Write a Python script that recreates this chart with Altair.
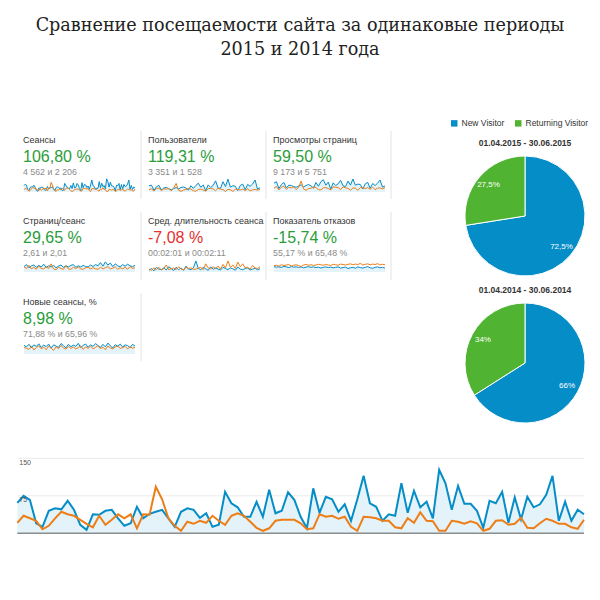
import altair as alt
import pandas as pd

# ---------------- data ----------------
title_lines = ["Сравнение посещаемости сайта за одинаковые периоды", "2015 и 2014 года"]

card_labels = ["Сеансы", "Пользователи", "Просмотры страниц",
               "Страниц/сеанс", "Сред. длительность сеанса", "Показатель отказов",
               "Новые сеансы, %"]
card_changes = ["106,80 %", "119,31 %", "59,50 %", "29,65 %", "-7,08 %", "-15,74 %", "8,98 %"]
card_details = ["4 562 и 2 206", "3 351 и 1 528", "9 173 и 5 751", "2,61 и 2,01",
                "00:02:01 и 00:02:11", "55,17 % и 65,48 %", "71,88 % и 65,96 %"]
card_trend = ["good", "good", "good", "good", "bad", "good", "good"]
card_col = [0, 1, 2, 0, 1, 2, 0]
card_row = [0, 0, 0, 1, 1, 1, 2]

# daily sessions 01.04 - 30.06 (bottom chart and "Сеансы" sparkline)
sessions_2015 = [61, 75, 67, 20, 13, 45, 50, 48, 65, 47,
                 17, 7, 38, 37, 45, 47, 30, 15, 20, 53,
                 30, 39, 43, 47, 30, 13, 43, 50, 47, 31,
                 40, 13, 17, 83, 60, 52, 33, 33, 63, 33,
                 87, 40, 45, 82, 67,
                 33, 10, 90, 41, 73, 68, 43, 58, 25, 68,
                 115, 60, 53, 25, 38, 35, 100, 41, 85, 52,
                 63, 30, 127, 100, 47, 95, 59, 59, 45, 11,
                 65, 60, 83, 21, 72, 28, 73, 52, 58, 77,
                 115, 25, 63, 25, 47, 38]
sessions_2014 = [21, 35, 30, 25, 8, 15, 30, 43, 38, 35,
                 27, 19, 12, 35, 17, 27, 38, 30, 38, 10,
                 38, 37, 93, 68, 30, 15, 5, 23, 19, 25,
                 21, 35, 25, 17, 35, 40, 35, 23, 11, 5,
                 10, 25, 27, 27, 27,
                 20, 8, 10, 38, 33, 35, 29, 33, 13, 5,
                 33, 32, 30, 25, 25, 12, 10, 30, 21, 42,
                 25, 24, 5, 5, 25, 23, 19, 24, 20, 5,
                 9, 25, 26, 17, 19, 31, 11, 10, 20, 29,
                 25, 19, 19, 12, 9, 27]

users_2015 = [44, 48, 12, 36, 47, 14, 28, 33, 22, 16, 24, 31, 22, 32, 35, 28, 13, 44, 25, 46,
              62, 33, 49, 8, 50, 32, 46, 78, 28, 26, 72, 38, 90, 34, 44, 40, 10, 46, 55, 16,
              53, 40, 56, 84, 20, 30]
users_2014 = [16, 22, 7, 24, 27, 10, 22, 20, 26, 8, 27, 60, 12, 4, 14, 17, 26, 20, 8, 6,
              18, 20, 14, 6, 25, 24, 22, 9, 26, 20, 16, 4, 18, 16, 4, 19, 18, 14, 20, 10,
              22, 8, 15, 18, 13, 20]
pageviews_2015 = [130, 150, 50, 110, 140, 60, 100, 95, 80, 70, 85, 105, 75, 95, 110, 90, 55, 140, 85, 150,
                  180, 100, 145, 40, 135, 95, 120, 170, 90, 80, 160, 100, 190, 100, 115, 110, 45, 120, 140, 55,
                  125, 95, 130, 175, 70, 90]
pageviews_2014 = [55, 80, 30, 70, 85, 40, 70, 60, 75, 35, 70, 160, 45, 25, 50, 55, 75, 65, 35, 30,
                  60, 65, 50, 30, 75, 70, 65, 35, 75, 60, 55, 25, 60, 55, 25, 65, 60, 50, 65, 40,
                  70, 35, 55, 60, 45, 65]
pps_2015 = [2.4, 2.9, 2.1, 2.6, 2.8, 2.2, 2.7, 2.3, 3.0, 2.2, 2.6, 2.3, 2.7, 2.1, 2.5, 2.8, 2.2, 2.6, 2.3, 2.7,
            2.9, 2.2, 2.6, 2.3, 2.7, 2.4, 2.3, 2.8, 2.4, 2.9, 2.6, 3.4, 2.5, 3.6, 2.8, 3.3, 2.4, 3.1, 2.6, 2.3,
            2.9, 2.5, 3.0, 2.6, 2.4, 2.7]
pps_2014 = [2.3, 1.9, 2.7, 1.8, 2.2, 1.7, 2.5, 1.9, 1.8, 2.3, 1.9, 3.1, 1.8, 1.6, 2.2, 1.9, 1.7, 2.6, 1.8, 1.7,
            2.2, 1.9, 2.3, 1.8, 1.7, 2.1, 2.2, 1.8, 2.1, 1.8, 1.7, 2.2, 1.8, 2.1, 2.4, 1.8, 2.0, 2.3, 1.7, 2.1,
            1.8, 2.2, 1.7, 2.4, 1.9, 2.1]
duration_2015 = [90, 120, 80, 140, 110, 100, 130, 95, 150, 120, 85, 140, 100, 130, 90, 160, 110, 100, 130, 250,
                 120, 100, 140, 115, 90, 150, 105, 130, 110, 95, 140, 120, 100, 130, 115, 90, 145, 110, 100, 120,
                 130, 95, 110, 125, 100, 115]
duration_2014 = [110, 90, 130, 100, 140, 95, 120, 180, 100, 115, 130, 100, 150, 110, 95, 140, 120, 130, 105, 110,
                 125, 140, 100, 200, 130, 115, 150, 120, 160, 110, 190, 130, 250, 140, 180, 120, 230, 150, 200, 130,
                 140, 110, 170, 130, 120, 150]
bounce_2015 = [58, 56, 57, 55, 59, 57, 54, 58, 56, 57, 55, 57, 53, 56, 58, 55, 57, 54, 56, 52,
               55, 57, 54, 56, 53, 55, 57, 52, 54, 56, 50, 53, 55, 51, 57, 54, 52, 55, 58, 53,
               51, 55, 57, 53, 55, 52]
bounce_2014 = [62, 64, 60, 66, 63, 65, 67, 61, 64, 66, 63, 58, 65, 67, 64, 66, 63, 65, 68, 66,
               64, 67, 65, 63, 68, 66, 64, 69, 67, 65, 68, 70, 66, 69, 67, 72, 65, 68, 70, 66,
               69, 67, 71, 65, 68, 66]
newsess_2015 = [74, 68, 78, 65, 76, 70, 80, 66, 75, 69, 79, 63, 76, 71, 66, 81, 73, 64, 78, 69,
                75, 70, 82, 65, 74, 79, 67, 76, 70, 81, 73, 66, 78, 68, 83, 72, 64, 77, 70, 79,
                68, 76, 73, 65, 78, 71]
newsess_2014 = [66, 62, 58, 70, 56, 65, 72, 60, 67, 57, 71, 63, 54, 68, 61, 73, 64, 59, 70, 62,
                67, 60, 65, 72, 58, 68, 62, 71, 60, 66, 73, 61, 67, 57, 71, 64, 60, 68, 72, 62,
                65, 70, 60, 68, 63, 66]

visitor_types = ["New Visitor", "Returning Visitor"]
pie_2015_share = [72.5, 27.5]
pie_2015_labels = ["72,5%", "27,5%"]
pie_2014_share = [66, 34]
pie_2014_labels = ["66%", "34%"]
pie_titles = ["01.04.2015 - 30.06.2015", "01.04.2014 - 30.06.2014"]

axis_ticks = [150, 75]
axis_tick_labels = ["150", "75"]

# ---------------- styles ----------------
SANS = "Liberation Sans"
BLUE = "#058dc7"
ORANGE = "#ed7e17"
AREA = "#e4f2f9"
PIE_BLUE = "#058dc7"
PIE_GREEN = "#50b432"
GREEN = "#2a9d3a"
RED = "#e4302f"

layers = []

# ---------------- title ----------------
tdf = pd.DataFrame({"line": [0, 1], "text": title_lines})
layers.append(
    alt.Chart(tdf).mark_text(font="DejaVu Serif", fontSize=17.6, color="#222",
                             align="center", baseline="middle").encode(
        x=alt.value(300),
        y=alt.Y("line:Q", scale=alt.Scale(domain=[0, 1], range=[25.5, 49.5]), axis=None),
        text="text:N")
)

# ---------------- cards ----------------
cdf = pd.DataFrame({"col": card_col, "row": card_row, "label": card_labels,
                    "change": card_changes, "detail": card_details, "trend": card_trend})
cx = alt.X("col:Q", scale=alt.Scale(domain=[0, 2], range=[23, 273]), axis=None)
cy = alt.Y("row:Q", scale=alt.Scale(domain=[0, 2], range=[140, 302]), axis=None)
cbase = alt.Chart(cdf)
card_layer = alt.layer(
    cbase.mark_text(align="left", baseline="middle", font=SANS, fontSize=9, color="#333").encode(
        x=cx, y=cy, text="label:N"),
    cbase.mark_text(align="left", baseline="middle", font=SANS, fontSize=16, dy=17).encode(
        x=cx, y=cy, text="change:N",
        color=alt.Color("trend:N", scale=alt.Scale(domain=["good", "bad"], range=[GREEN, RED]), legend=None)),
    cbase.mark_text(align="left", baseline="middle", font=SANS, fontSize=8.8, dy=31.5, color="#8a8a8a").encode(
        x=cx, y=cy, text="detail:N"),
)
layers.append(card_layer)

# card separators
for r, cols in [(0, [0, 1, 2]), (1, [0, 1, 2]), (2, [0])]:
    for c in cols:
        layers.append(
            alt.Chart(pd.DataFrame({"k": [0]})).mark_rule(color="#e3e3e3", strokeWidth=1).encode(
                x=alt.value(141 + 125 * c), y=alt.value(131 + 81 * r), y2=alt.value(199 + 81 * r))
        )

# sparklines
def sparkline(cur, prev, col, row, lo, hi):
    n = len(cur)
    df = pd.DataFrame({"i": list(range(n)), "cur": cur, "prev": prev})
    x0 = 24 + 125 * col
    bottom = [192, 272, 354][row]
    xs = alt.X("i:Q", scale=alt.Scale(domain=[0, n - 1], range=[x0, x0 + 111]), axis=None)
    ysc = alt.Scale(domain=[lo, hi], range=[bottom, bottom - 14], zero=False)
    base = alt.Chart(df)
    return alt.layer(
        base.mark_area(color=AREA, opacity=1).encode(
            x=xs, y=alt.Y("cur:Q", scale=ysc, axis=None), y2=alt.datum(lo)),
        base.mark_line(color=BLUE, strokeWidth=1).encode(x=xs, y=alt.Y("cur:Q", scale=ysc, axis=None)),
        base.mark_line(color=ORANGE, strokeWidth=1).encode(x=xs, y=alt.Y("prev:Q", scale=ysc, axis=None)),
    )

layers.append(sparkline(sessions_2015, sessions_2014, 0, 0, 0, 135))
layers.append(sparkline(users_2015, users_2014, 1, 0, 0, 98))
layers.append(sparkline(pageviews_2015, pageviews_2014, 2, 0, 0, 205))
layers.append(sparkline(pps_2015, pps_2014, 0, 1, 1.0, 4.6))
layers.append(sparkline(duration_2015, duration_2014, 1, 1, 60, 300))
layers.append(sparkline(bounce_2015, bounce_2014, 2, 1, 35, 95))
layers.append(sparkline(newsess_2015, newsess_2014, 0, 2, 40, 95))

# ---------------- pies ----------------
def pie(shares, labels, title, cyy, show_legend):
    df = pd.DataFrame({"visitor": visitor_types, "share": shares, "label": labels, "k": [0, 1]})
    if show_legend:
        color = alt.Color("visitor:N", scale=alt.Scale(domain=visitor_types, range=[PIE_BLUE, PIE_GREEN]),
                          legend=alt.Legend(orient="none", legendX=450, legendY=119, direction="horizontal",
                                            title=None, symbolType="square", symbolSize=42,
                                            symbolStrokeWidth=0, labelFont=SANS, labelFontSize=8.5,
                                            labelColor="#333", columnPadding=9, labelOffset=3))
    else:
        color = alt.Color("visitor:N", scale=alt.Scale(domain=visitor_types, range=[PIE_BLUE, PIE_GREEN]),
                          legend=None)
    base = alt.Chart(df).encode(theta=alt.Theta("share:Q", stack=True), order=alt.Order("k:Q"),
                                x=alt.value(525), y=alt.value(cyy))
    arc = base.mark_arc(outerRadius=60, stroke="white", strokeWidth=1).encode(color=color)
    txt = base.mark_text(radius=48, fontSize=8, font=SANS, color="white").encode(text="label:N")
    ttl = alt.Chart(pd.DataFrame({"t": [title]})).mark_text(
        font=SANS, fontWeight="bold", fontSize=8.5, color="#333", baseline="middle").encode(
        x=alt.value(525), y=alt.value(cyy - 73), text="t:N")
    return alt.layer(arc, txt, ttl)

layers.append(pie(pie_2015_share, pie_2015_labels, pie_titles[0], 216, True))
layers.append(pie(pie_2014_share, pie_2014_labels, pie_titles[1], 363, False))

# ---------------- bottom chart ----------------
n = len(sessions_2015)
bdf = pd.DataFrame({"day": list(range(n)), "cur": sessions_2015, "prev": sessions_2014})
bxs = alt.Scale(domain=[0, n - 1], range=[17.3, 584])
bx = alt.X("day:Q", scale=bxs, axis=None)
bys = alt.Scale(domain=[0, 150], range=[533.3, 458.3])
grid_df = pd.DataFrame({"v": axis_ticks, "t": axis_tick_labels, "d0": [0] * len(axis_ticks),
                        "d1": [n - 1] * len(axis_ticks)})
zero_df = pd.DataFrame({"v": [0], "d0": [0], "d1": [n - 1]})
bbase = alt.Chart(bdf)
bottom = alt.layer(
    alt.Chart(grid_df).mark_rule(color="#ececec", strokeWidth=1).encode(
        x=alt.X("d0:Q", scale=bxs, axis=None), x2="d1:Q", y=alt.Y("v:Q", scale=bys, axis=None)),
    bbase.mark_area(color=AREA, opacity=1).encode(x=bx, y=alt.Y("cur:Q", scale=bys, axis=None)),
    bbase.mark_line(color=BLUE, strokeWidth=2).encode(x=bx, y=alt.Y("cur:Q", scale=bys, axis=None)),
    bbase.mark_line(color=ORANGE, strokeWidth=2).encode(x=bx, y=alt.Y("prev:Q", scale=bys, axis=None)),
    alt.Chart(zero_df).mark_rule(color="#8c8c8c", strokeWidth=1.5).encode(
        x=alt.X("d0:Q", scale=bxs, axis=None), x2="d1:Q", y=alt.Y("v:Q", scale=bys, axis=None)),
    alt.Chart(grid_df).mark_text(align="left", baseline="middle", font=SANS, fontSize=7,
                                 color="#555", dx=2, dy=4.5).encode(
        x=alt.X("d0:Q", scale=bxs, axis=None), y=alt.Y("v:Q", scale=bys, axis=None), text="t:N"),
)
layers.append(bottom)

chart = alt.layer(*layers).resolve_scale(
    x="independent", y="independent", color="independent", theta="independent"
).properties(
    width=600, height=600, padding=0, autosize=alt.AutoSizeParams(type="none"), background="white"
).configure_view(stroke=None)

chart.save("out.html", embed_options={"renderer": "svg", "actions": False})
